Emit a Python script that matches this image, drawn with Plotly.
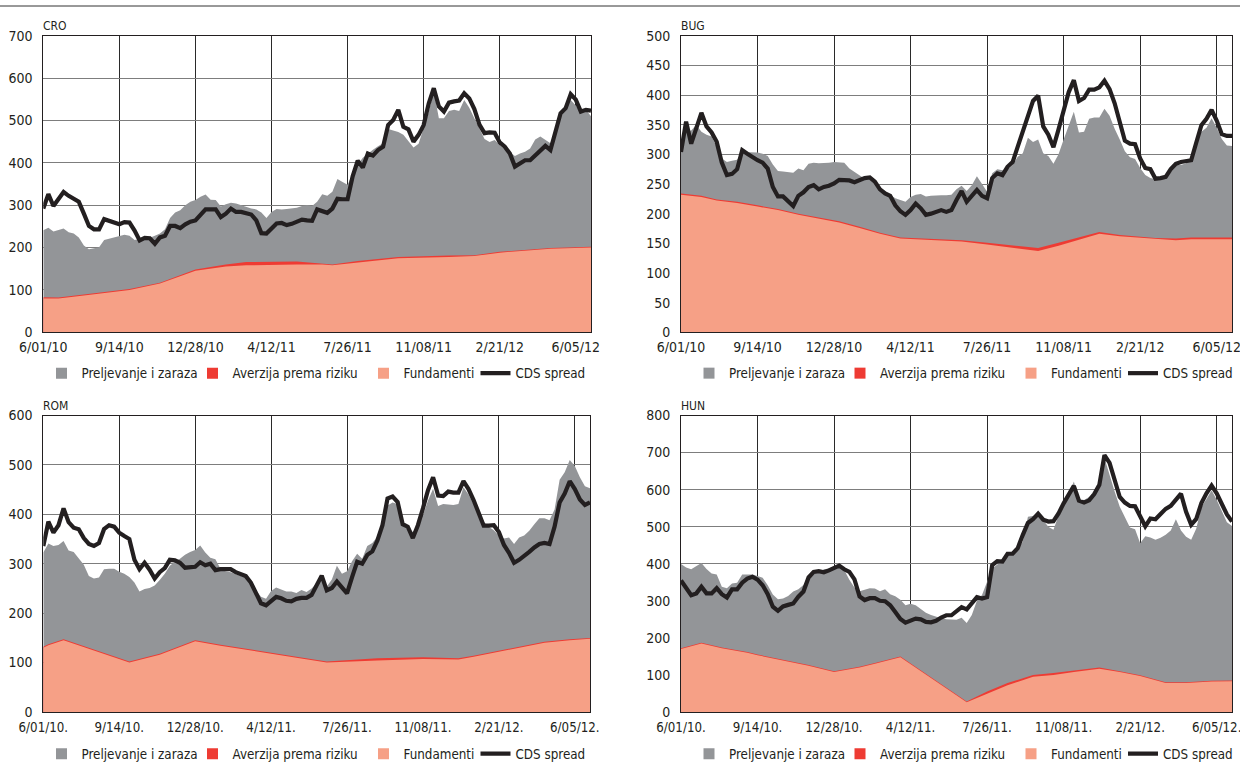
import pandas as pd
import plotly.graph_objects as go

# ---------------------------------------------------------------- data
# weekly observations, 1 June 2010 - 26 June 2012
weeks = pd.date_range("2010-06-01", periods=109, freq="7D")

tick_dates = ["2010-06-01", "2010-09-14", "2010-12-28", "2011-04-12",
              "2011-07-26", "2011-11-08", "2012-02-21", "2012-06-05"]
tick_text_top = ["6/01/10", "9/14/10", "12/28/10", "4/12/11",
                 "7/26/11", "11/08/11", "2/21/12", "6/05/12"]
tick_text_bottom = ["6/01/10.", "9/14/10.", "12/28/10.", "4/12/11.",
                    "7/26/11.", "11/08/11.", "2/21/12.", "6/05/12."]

# --- CRO
cro_cds = [292, 326, 298, 315, 331, 322, 314, 308, 280, 251, 243, 243, 267, 263, 261, 255, 260, 259, 240, 217,
           223, 222, 209, 224, 228, 251, 251, 246, 255, 261, 264, 278, 290, 290, 290, 272, 280, 292, 284, 284,
           282, 278, 264, 234, 233, 245, 257, 258, 253, 256, 260, 266, 264, 263, 290, 285, 282, 292, 315, 314,
           314, 368, 405, 389, 422, 417, 430, 438, 489, 501, 525, 485, 479, 450, 466, 489, 540, 576, 533, 521,
           542, 545, 547, 564, 552, 527, 490, 470, 472, 471, 448, 438, 422, 391, 399, 406, 406, 418, 429, 440,
           430, 470, 517, 529, 562, 549, 521, 525, 523]
# upper edge of the stacked areas (sum of the three components)
cro_total = [241, 247, 238, 242, 245, 236, 233, 224, 205, 196, 198, 201, 218, 221, 223, 227, 230, 228, 218, 220,
             221, 223, 228, 233, 243, 270, 283, 288, 300, 308, 312, 320, 325, 313, 312, 297, 302, 306, 304, 300,
             297, 292, 290, 283, 270, 284, 291, 290, 291, 292, 294, 298, 300, 298, 308, 326, 322, 332, 362, 355,
             348, 375, 396, 412, 422, 431, 439, 446, 480, 477, 473, 466, 450, 436, 445, 482, 520, 570, 505, 505,
             522, 525, 522, 548, 530, 505, 480, 456, 449, 454, 442, 432, 425, 416, 422, 426, 434, 455, 462, 455,
             446, 477, 520, 535, 548, 535, 525, 525, 510]
cro_knots = [0, 3, 8, 12, 17, 23, 30, 36, 40, 50, 55, 57, 62, 70, 80, 85, 90, 95, 100, 108]
cro_fund = [80, 80, 87, 93, 100, 115, 145, 155, 158, 160, 160, 158, 165, 175, 178, 180, 188, 193, 197, 200]
cro_risk = [3, 2, 2, 2, 2, 2, 3, 5, 8, 7, 3, 2, 3, 3, 3, 2, 2, 2, 2, 2]

# --- BUG
bug_cds = [304, 355, 318, 345, 370, 347, 337, 321, 286, 265, 267, 275, 307, 301, 295, 290, 286, 276, 245, 229,
           229, 222, 213, 230, 236, 245, 248, 241, 245, 247, 251, 257, 257, 256, 253, 257, 260, 261, 254, 241,
           234, 230, 214, 204, 198, 206, 217, 209, 198, 200, 203, 206, 203, 206, 223, 238, 220, 231, 240, 230,
           226, 260, 268, 265, 279, 287, 312, 335, 360, 390, 399, 347, 333, 312, 342, 372, 405, 425, 390, 395,
           409, 409, 413, 424, 410, 386, 357, 323, 318, 317, 293, 277, 275, 259, 260, 262, 275, 284, 287, 289,
           290, 320, 349, 360, 375, 357, 334, 331, 331]
bug_total = [308, 338, 340, 350, 338, 333, 330, 313, 293, 287, 289, 291, 304, 304, 304, 303, 301, 297, 283, 272,
             271, 270, 269, 276, 273, 284, 286, 285, 285, 286, 287, 286, 286, 276, 270, 265, 259, 259, 257, 244,
             238, 231, 226, 223, 220, 228, 232, 233, 229, 230, 231, 231, 231, 232, 241, 247, 238, 248, 263, 251,
             237, 268, 275, 273, 274, 282, 296, 302, 328, 321, 325, 302, 297, 284, 300, 325, 350, 372, 337, 338,
             360, 362, 362, 377, 365, 343, 325, 305, 295, 292, 277, 265, 260, 258, 258, 262, 270, 282, 282, 285,
             295, 325, 338, 345, 361, 345, 326, 315, 314]
bug_knots = [0, 4, 7, 11, 15, 19, 23, 27, 31, 35, 39, 43, 50, 55, 60, 65, 70, 74, 78, 82, 86, 93, 97, 100, 108]
bug_fund = [232, 228, 222, 218, 212, 206, 198, 192, 185, 176, 166, 158, 155, 153, 148, 142, 137, 146, 156, 166,
            162, 157, 155, 157, 157]
bug_risk = [2, 2, 2, 2, 2, 2, 2, 2, 2, 2, 2, 2, 2, 2, 3, 4, 5, 5, 4, 3, 2, 2, 3, 3, 3]

# --- ROM
rom_cds = [336, 385, 363, 378, 412, 384, 373, 370, 352, 340, 336, 342, 370, 378, 375, 363, 356, 350, 308, 289,
           302, 288, 270, 283, 291, 308, 307, 302, 292, 292, 294, 303, 297, 300, 287, 289, 289, 289, 283, 279,
           275, 262, 241, 220, 216, 225, 233, 230, 225, 224, 229, 231, 231, 237, 255, 276, 246, 251, 264, 253,
           240, 273, 304, 300, 318, 325, 347, 378, 432, 436, 425, 380, 375, 352, 378, 412, 449, 475, 438, 437,
           446, 444, 444, 467, 451, 429, 405, 377, 377, 378, 364, 338, 322, 302, 308, 315, 324, 333, 340, 342,
           340, 375, 424, 442, 467, 451, 430, 419, 424]
rom_total = [323, 341, 336, 338, 346, 327, 324, 312, 298, 275, 270, 272, 289, 290, 290, 284, 280, 273, 262, 244,
             249, 251, 256, 267, 280, 296, 304, 310, 318, 324, 328, 337, 323, 312, 309, 290, 285, 283, 279, 275,
             273, 259, 246, 233, 229, 245, 252, 248, 244, 244, 241, 247, 243, 250, 260, 266, 254, 268, 296, 280,
             285, 305, 320, 310, 336, 342, 355, 368, 418, 424, 421, 383, 373, 364, 375, 398, 428, 452, 417, 421,
             420, 419, 421, 455, 440, 420, 402, 385, 375, 368, 357, 351, 353, 340, 353, 357, 367, 380, 392, 392,
             388, 410, 470, 485, 510, 498, 475, 457, 453]
rom_knots = [0, 1, 4, 11, 17, 23, 30, 35, 39, 45, 50, 56, 60, 66, 75, 82, 85, 90, 95, 99, 104, 108]
rom_fund = [130, 135, 145, 120, 100, 116, 143, 134, 128, 118, 110, 100, 102, 104, 107, 106, 112, 122, 133, 140,
            145, 148]
rom_risk = [2, 2, 2, 2, 2, 2, 2, 2, 2, 2, 2, 2, 3, 5, 4, 3, 2, 2, 2, 2, 2, 2]

# --- HUN
hun_cds = [355, 333, 315, 320, 338, 320, 320, 334, 318, 309, 331, 331, 349, 360, 365, 357, 342, 318, 284, 273,
           285, 289, 293, 311, 325, 363, 378, 380, 377, 382, 388, 395, 385, 378, 358, 312, 302, 307, 307, 300,
           299, 288, 270, 251, 241, 248, 252, 250, 243, 242, 246, 255, 261, 261, 272, 283, 277, 294, 310, 306,
           310, 396, 407, 406, 427, 427, 442, 478, 510, 520, 535, 519, 514, 515, 536, 563, 586, 610, 570, 565,
           571, 588, 613, 693, 672, 623, 580, 565, 556, 555, 527, 501, 522, 520, 534, 548, 556, 571, 589, 540,
           505, 521, 564, 590, 611, 590, 560, 533, 514]
hun_total = [399, 390, 385, 394, 402, 386, 374, 371, 338, 334, 347, 349, 371, 371, 371, 367, 362, 342, 317, 304,
             306, 313, 325, 331, 343, 365, 381, 376, 385, 387, 393, 398, 383, 357, 336, 326, 330, 334, 333, 326,
             331, 318, 312, 303, 288, 292, 288, 278, 268, 262, 257, 253, 250, 249, 249, 254, 240, 262, 300, 316,
             350, 387, 398, 410, 429, 429, 436, 460, 527, 529, 535, 518, 500, 492, 530, 560, 585, 622, 575, 572,
             580, 593, 620, 685, 638, 595, 554, 528, 498, 493, 455, 474, 471, 465, 470, 478, 490, 520, 490, 473,
             465, 495, 553, 575, 598, 573, 540, 512, 502]
hun_knots = [0, 4, 8, 13, 15, 20, 25, 30, 35, 38, 43, 56, 60, 64, 69, 73, 77, 82, 86, 90, 95, 99, 104, 108]
hun_fund = [170, 185, 172, 160, 153, 140, 125, 108, 120, 130, 148, 26, 50, 72, 95, 100, 108, 117, 108, 97,
            78, 78, 82, 83]
hun_risk = [2, 2, 2, 2, 2, 2, 2, 2, 2, 2, 2, 2, 5, 6, 5, 5, 4, 3, 2, 2, 2, 2, 2, 2]

# ---------------------------------------------------------------- style
GRAY = "#939598"
RED = "#EE3B33"
SALMON = "#F6A086"
BLACK = "#231F20"
VGRID = "#2a2a2a"
HGRID = "#7d7d7d"
FONT = "DejaVu Sans Condensed, Liberation Sans Narrow, Arial Narrow, sans-serif"

W, H = 1240, 767


def px_x(p):
    return p / W


def px_y(p):
    return (H - p) / H


# legend entries: label, colour, width reserved for the label text
legend_items = [("Preljevanje i zaraza", GRAY, 106),
                ("Averzija prema riziku", RED, 126),
                ("Fundamenti", SALMON, 67)]

panels = [
    # name, cds, total, knots, fund, risk, ymax, ystep, ticktext, x-domain px, y-domain px, legend px
    ("CRO", cro_cds, cro_total, cro_knots, cro_fund, cro_risk, 700, 100, tick_text_top,
     (43.3, 591), (35.7, 332.3), (41.5, 373.5)),
    ("BUG", bug_cds, bug_total, bug_knots, bug_fund, bug_risk, 500, 50, tick_text_top,
     (681, 1232), (35.7, 332.3), (689, 373.5)),
    ("ROM", rom_cds, rom_total, rom_knots, rom_fund, rom_risk, 600, 100, tick_text_bottom,
     (43.3, 590), (415.5, 712), (41.5, 754)),
    ("HUN", hun_cds, hun_total, hun_knots, hun_fund, hun_risk, 800, 100, tick_text_bottom,
     (681, 1232), (415.5, 712), (689, 754)),
]

fig = go.Figure()
start = pd.Timestamp("2010-06-01")

for i, (name, cds, total, knots, fund, risk, ymax, ystep, ttext, xd, yd, lg) in enumerate(panels):
    n = i + 1
    xa = "x" if n == 1 else f"x{n}"
    ya = "y" if n == 1 else f"y{n}"
    leg = "legend" if n == 1 else f"legend{n}"
    knot_dates = [start + pd.Timedelta(days=7 * k) for k in knots]
    fund_risk = [f + r for f, r in zip(fund, risk)]

    common = dict(xaxis=xa, yaxis=ya, legend=leg, hoverinfo="skip")
    # stacked areas: full stack (gray), fundamentals + risk aversion (red), fundamentals (salmon)
    fig.add_trace(go.Scatter(x=weeks, y=total, mode="lines", fill="tozeroy", fillcolor=GRAY,
                             line=dict(width=0, color=GRAY), showlegend=False, **common))
    fig.add_trace(go.Scatter(x=knot_dates, y=fund_risk, mode="lines", fill="tozeroy", fillcolor=RED,
                             line=dict(width=0, color=RED), showlegend=False, **common))
    fig.add_trace(go.Scatter(x=knot_dates, y=fund, mode="lines", fill="tozeroy", fillcolor=SALMON,
                             line=dict(width=0, color=SALMON), showlegend=False, **common))
    # legend swatches
    for label, col, lw in legend_items:
        fig.add_trace(go.Scatter(x=[None], y=[None], mode="markers", name=label, legendwidth=lw,
                                 marker=dict(symbol="square", size=11, color=col, line=dict(width=0)),
                                 **common))
    fig.add_trace(go.Scatter(x=weeks, y=cds, mode="lines", name="CDS spread",
                             line=dict(color=BLACK, width=4.2), **common))

    ytick_font = dict(family=FONT, size=14, color=BLACK)
    # the dated labels of the lower row carry a trailing dot, so they are set a touch smaller
    xtick_font = dict(family=FONT, size=14 if n <= 2 else 13.2, color=BLACK)
    xkey = "xaxis" if n == 1 else f"xaxis{n}"
    ykey = "yaxis" if n == 1 else f"yaxis{n}"
    fig.layout[xkey] = dict(
        domain=[px_x(xd[0]), px_x(xd[1])], anchor=ya,
        range=[weeks[0], weeks[-1]], type="date",
        tickmode="array", tickvals=tick_dates, ticktext=ttext,
        showgrid=True, gridcolor=VGRID, gridwidth=1,
        showline=True, linecolor=BLACK, linewidth=1, mirror=True,
        ticks="", tickfont=xtick_font, zeroline=False, fixedrange=True,
        automargin=False, ticklabelstandoff=2 if n <= 2 else 3, ticklabeloverflow="allow",
    )
    fig.layout[ykey] = dict(
        domain=[px_y(yd[1]), px_y(yd[0])], anchor=xa,
        range=[0, ymax], tickmode="linear", tick0=0, dtick=ystep,
        showgrid=True, gridcolor=HGRID, gridwidth=1.2,
        showline=True, linecolor=BLACK, linewidth=1, mirror=True,
        ticks="", tickfont=ytick_font, zeroline=False, fixedrange=True,
        automargin=False, ticklabelstandoff=7, ticklabeloverflow="allow",
    )
    fig.layout[leg] = dict(
        orientation="h", x=px_x(lg[0]), xanchor="left",
        y=px_y(lg[1]), yanchor="middle",
        bgcolor="rgba(0,0,0,0)", borderwidth=0,
        font=dict(family=FONT, size=13.3, color=BLACK),
        itemwidth=30, traceorder="normal",
    )
    fig.add_annotation(text=name, xref="paper", yref="paper",
                       x=px_x(xd[0] - 2), y=px_y(yd[0] - 10), xanchor="left", yanchor="middle",
                       showarrow=False, font=dict(family=FONT, size=12, color=BLACK))

# thin rule across the top of the page
fig.add_shape(type="line", xref="paper", yref="paper", x0=0, x1=1, y0=px_y(6), y1=px_y(6),
              line=dict(color="#333333", width=1))

fig.update_layout(
    template="none",
    width=W, height=H, margin=dict(l=0, r=0, t=0, b=0, autoexpand=False),
    paper_bgcolor="white", plot_bgcolor="white",
    font=dict(family=FONT, color=BLACK),
)

fig.write_html("out.html")
